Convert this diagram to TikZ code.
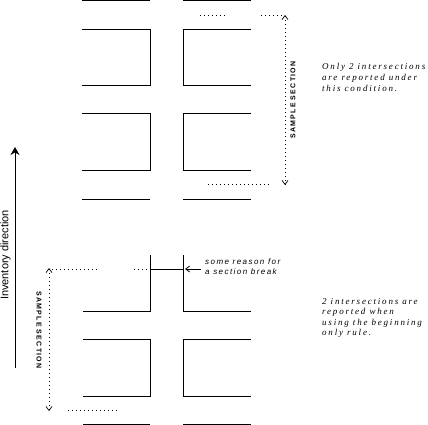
\documentclass[tikz,border=0pt]{standalone}
\usepackage{fontspec}
\setmainfont{Liberation Serif}
\setsansfont{Liberation Sans}
\newfontfamily\annfont[LetterSpace=20]{Liberation Serif}
\newfontfamily\brkfont[LetterSpace=18]{Liberation Sans}
\newfontfamily\secfont[LetterSpace=18]{Liberation Sans}
\usetikzlibrary{arrows.meta}
\begin{document}
\begin{tikzpicture}[x=1pt,y=-1pt,
  road/.style={draw, line width=0.8pt},
  lead/.style={line width=0.7pt, dash pattern=on 0.7pt off 3.3pt},
  span/.style={lead, {Straight Barb[length=4pt,width=6pt]}-{Straight Barb[length=4pt,width=6pt]}},
  note/.style={font=\annfont\itshape\fontsize{9}{11}\selectfont, align=left, anchor=north west, inner sep=0pt},
  brk/.style={font=\brkfont\itshape\fontsize{8}{10}\selectfont, align=left, anchor=north west, inner sep=0pt},
  sec/.style={font=\secfont\bfseries\fontsize{7}{8}\selectfont, inner sep=0pt},
  dirlabel/.style={font=\sffamily\fontsize{11}{12}\selectfont, inner sep=0pt, rotate=90}
]
\useasboundingbox (0,0) rectangle (428,425);
% ---------- upper part ----------
\draw[road] (82,0.5) -- (150,0.5);
\draw[road] (183,0.5) -- (251,0.5);
\draw[road] (82,29) -- (150,29) -- (150,85) -- (82,85);
\draw[road] (251,29) -- (183,29) -- (183,85) -- (251,85);
\draw[road] (82,113) -- (150,113) -- (150,170) -- (82,170);
\draw[road] (251,113) -- (183,113) -- (183,170) -- (251,170);
\draw[road] (82,199) -- (150,199);
\draw[road] (183,199) -- (251,199);
% sample section (upper)
\coordinate (ut) at (285,15);
\coordinate (ub) at (285,185);
\draw[span] (ut) -- (ub);
\coordinate (l1a) at (200,15); \coordinate (l1b) at (226,15);
\coordinate (l2a) at (261,15); \coordinate (l2b) at (283,15);
\coordinate (l3a) at (208,184); \coordinate (l3b) at (270,184);
\draw[lead] (l1a) -- (l1b);
\draw[lead] (l2a) -- (l2b);
\draw[lead] (l3a) -- (l3b);
\node[sec, rotate=90] (usec) at (293,100) {SAMPLE SECTION};
\node[note] (unote) at (322,63) {Only 2 intersections\\are reported under\\this condition.};
% ---------- lower part ----------
\draw[road] (150,255) -- (150,311) -- (83,311);
\draw[road] (183,255) -- (183,311) -- (251,311);
\coordinate (bl) at (150,269);
\coordinate (br) at (183,269);
\draw[road] (bl) -- (br);
\draw[road] (83,339) -- (150,339) -- (150,396) -- (83,396);
\draw[road] (251,339) -- (183,339) -- (183,396) -- (251,396);
\draw[road] (83,424) -- (150,424);
\draw[road] (183,424) -- (251,424);
\node[brk] (bnote) at (205,259) {some reason for\\a section break};
\coordinate (bt) at (185,269);
\draw[line width=0.8pt, -{Straight Barb[length=4pt,width=6pt]}] (201,269) -- (bt);
% sample section (lower)
\coordinate (lt) at (49,268);
\coordinate (lb) at (49,411);
\draw[span] (lt) -- (lb);
\coordinate (m1a) at (52,269); \coordinate (m1b) at (99,269);
\coordinate (m2a) at (134,269); \coordinate (m2b) at (148,269);
\coordinate (m3a) at (68,410); \coordinate (m3b) at (118,410);
\draw[lead] (m1a) -- (m1b);
\draw[lead] (m2a) -- (m2b);
\draw[lead] (m3a) -- (m3b);
\node[sec, rotate=-90] (lsec) at (39,330) {SAMPLE SECTION};
\node[note, font=\annfont\itshape\fontsize{9}{10.5}\selectfont] (lnote) at (322,298) {2 intersections are\\reported when\\using the beginning\\only rule.};
% inventory direction
\coordinate (ia) at (15,368);
\coordinate (ib) at (15,147);
\draw[line width=0.8pt, -{Stealth[length=8pt,width=9pt]}] (ia) -- (ib);
\node[dirlabel] (dir) at (5.5,255) {Inventory direction};
\end{tikzpicture}
\end{document}
